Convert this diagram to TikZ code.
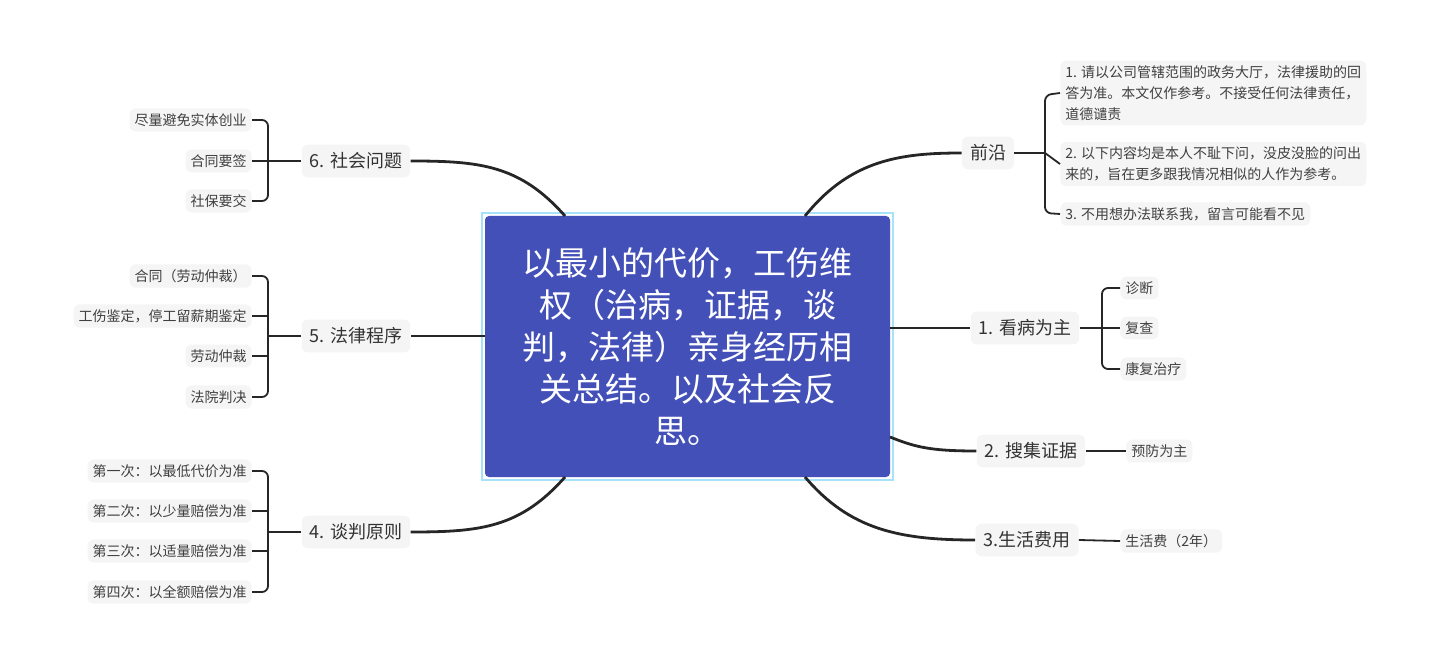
\documentclass[tikz,border=0pt]{standalone}
\usepackage{fontspec}
\setmainfont{Noto Sans CJK SC}
\begin{document}
\begin{tikzpicture}[x=0.5pt,y=-0.5pt,
  conn/.style={line width=1.4pt,draw=black!85},
  br/.style={line width=0.9pt,draw=black!85,rounded corners=3pt},
  mainnode/.style={font=\fontsize{9}{11}\selectfont,text=black!80,fill=black!4,rounded corners=3pt,inner sep=4pt},
  leaf/.style={font=\fontsize{7}{10.5}\selectfont,text=black!75,fill=black!4,rounded corners=3pt,inner sep=2.5pt},
  leafR/.style={leaf,anchor=west,align=left},
  leafL/.style={leaf,anchor=east}]
\useasboundingbox (0,0) rectangle (1440,652);
% central
\draw[draw=cyan!35,line width=0.8pt] (482,213) rectangle (893,480);
\fill[rounded corners=2pt,color={rgb,255:red,67;green,80;blue,184}] (485,216) rectangle (890,477);
\node[text=white,align=center,font=\fontsize{16.5}{21}\selectfont] (c) at (687.5,346.5) {以最小的代价，工伤维\\权（治病，证据，谈\\判，法律）亲身经历相\\关总结。以及社会反\\思。};
% main nodes
\node[mainnode] (q) at (988,153) {前沿};
\node[mainnode] (b1) at (1025,328) {1. 看病为主};
\node[mainnode] (b2) at (1031,451) {2. 搜集证据};
\node[mainnode] (b3) at (1027,540) {3.生活费用};
\node[mainnode] (b6) at (356,161) {6. 社会问题};
\node[mainnode] (b5) at (356,336) {5. 法律程序};
\node[mainnode] (b4) at (356,532) {4. 谈判原则};
% connectors
\coordinate (c1) at (805,216); \coordinate (c6) at (565,216);
\coordinate (c3) at (805,477); \coordinate (c4) at (565,477);
\draw[conn] (c1) .. controls (850,160) and (900,153) .. (q.west);
\draw[conn] (890,328) -- (b1.west);
\draw[conn] (890,437) .. controls (915,447) and (930,451) .. (b2.west);
\draw[conn] (c3) .. controls (850,530) and (900,540) .. (b3.west);
\draw[conn] (c6) .. controls (520,165) and (480,161) .. (b6.east);
\draw[conn] (485,336) -- (b5.east);
\draw[conn] (c4) .. controls (520,528) and (480,532) .. (b4.east);
% leaves right
\node[leafR] (q1) at (1060,93) {1. 请以公司管辖范围的政务大厅，法律援助的回\\答为准。本文仅作参考。不接受任何法律责任，\\道德谴责};
\node[leafR] (q2) at (1060,164) {2. 以下内容均是本人不耻下问，没皮没脸的问出\\来的，旨在更多跟我情况相似的人作为参考。};
\node[leafR] (q3) at (1060,214) {3. 不用想办法联系我，留言可能看不见};
\draw[br] (q.east) -- (1045,153);
\draw[br] (q1.west) -- (1045,95) -- (1045,213) -- (q3.west);
\draw[br] (1045,153) -- (q2.west);
\node[leafR] (l1) at (1120,288) {诊断};
\node[leafR] (l2) at (1120,328) {复查};
\node[leafR] (l3) at (1120,369) {康复治疗};
\draw[br] (b1.east) -- (l2.west);
\draw[br] (l1.west) -- (1102,288) -- (1102,369) -- (l3.west);
\node[leafR] (p1) at (1126,451) {预防为主};
\draw[br] (b2.east) -- (p1.west);
\node[leafR] (s1) at (1120,541) {生活费（2年）};
\draw[br] (b3.east) -- (s1.west);
% leaves left
\node[leafL] (a1) at (252,120) {尽量避免实体创业};
\node[leafL] (a2) at (252,161) {合同要签};
\node[leafL] (a3) at (252,201) {社保要交};
\draw[br] (b6.west) -- (a2.east);
\draw[br] (a1.east) -- (268,120) -- (268,201) -- (a3.east);
\node[leafL] (f1) at (252,276) {合同（劳动仲裁）};
\node[leafL] (f2) at (252,316) {工伤鉴定，停工留薪期鉴定};
\node[leafL] (f3) at (252,356) {劳动仲裁};
\node[leafL] (f4) at (252,397) {法院判决};
\draw[br] (b5.west) -- (268,336);
\draw[br] (f1.east) -- (268,276) -- (268,397) -- (f4.east);
\draw[br] (f2.east) -- (268,316); \draw[br] (f3.east) -- (268,356);
\node[leafL] (t1) at (252,471) {第一次：以最低代价为准};
\node[leafL] (t2) at (252,511) {第二次：以少量赔偿为准};
\node[leafL] (t3) at (252,551) {第三次：以适量赔偿为准};
\node[leafL] (t4) at (252,592) {第四次：以全额赔偿为准};
\draw[br] (b4.west) -- (268,532);
\draw[br] (t1.east) -- (268,471) -- (268,592) -- (t4.east);
\draw[br] (t2.east) -- (268,511); \draw[br] (t3.east) -- (268,551);
\end{tikzpicture}
\end{document}
